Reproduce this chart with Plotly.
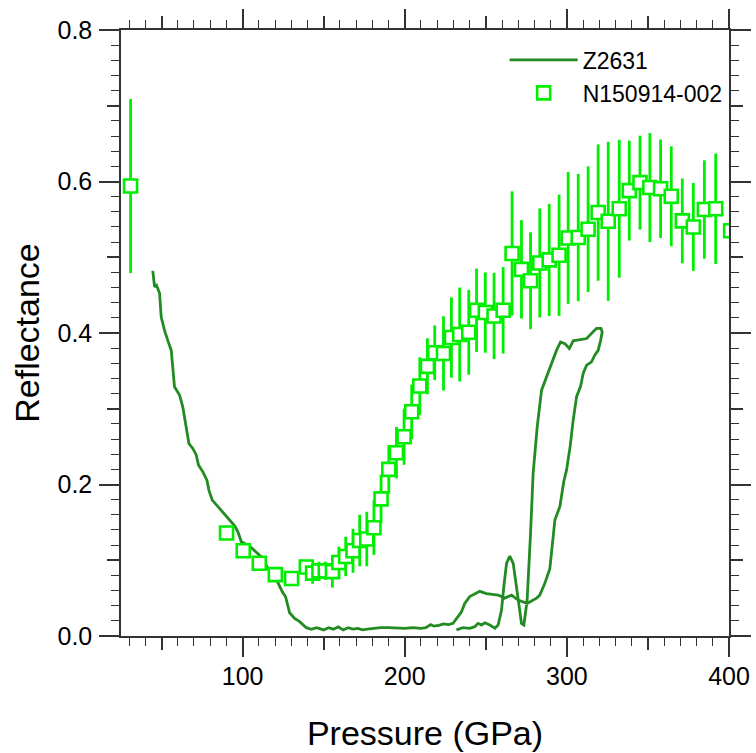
import plotly.graph_objects as go

# ---- Data: Z2631 (line) ----
z_p = [44.6, 45.7, 46.9, 48.8, 49.8, 51.9, 53.9, 56.0, 58.0, 61.1, 63.1, 65.2, 66.9, 69.3,
       71.4, 72.8, 75.5, 78.0, 79.2, 81.3, 85.8, 89.9, 95.1, 97.1, 99.2, 104.3, 109.4,
       112.5, 115.6, 120.8, 124.5, 126.5, 129.0, 132.1, 135.2, 139.3, 142.4, 145.5, 147.0,
       150.0, 153.0, 156.0, 159.0, 162.0, 165.0, 168.0, 171.0, 174.0, 177.0, 180.0, 185.0,
       190.0, 195.0, 200.0, 205.0, 210.0, 213.0, 216.0, 218.0, 221.0, 224.0, 227.0, 229.8,
       235.0, 237.0, 240.1, 246.3, 250.4, 257.6, 261.7, 265.9, 269.9, 275.5, 281.3, 283.3,
       286.4, 289.5, 291.5, 292.6, 295.7, 298.1, 299.8, 302.0, 303.9, 306.0, 308.5, 310.1,
       312.2, 315.2, 317.3, 319.3, 320.8, 321.8, 321.0, 318.3, 316.2, 312.2, 303.9, 301.5,
       298.8, 296.1, 293.6, 289.1, 284.4, 281.7, 279.2, 277.6, 275.5, 273.5, 272.0, 270.6,
       268.5, 266.9, 264.8, 262.8, 261.1, 259.7, 257.6, 255.6, 252.5, 249.4, 247.4, 245.2,
       243.2, 240.1, 236.0, 231.9]
z_r = [0.482, 0.461, 0.463, 0.4525, 0.421, 0.403, 0.390, 0.377, 0.329, 0.318, 0.3025, 0.276,
       0.254, 0.2476, 0.239, 0.2256, 0.2167, 0.2058, 0.1926, 0.1794, 0.1685, 0.1574, 0.1455,
       0.1376, 0.1244, 0.1187, 0.1091, 0.1025, 0.0893, 0.0748, 0.0584, 0.0518, 0.0307,
       0.0233, 0.0189, 0.011, 0.0088, 0.011, 0.010, 0.008, 0.011, 0.009, 0.012, 0.008, 0.011,
       0.009, 0.010, 0.008, 0.009, 0.010, 0.011, 0.011, 0.010, 0.010, 0.011, 0.010, 0.011,
       0.015, 0.013, 0.014, 0.016, 0.015, 0.0167, 0.032, 0.043, 0.052, 0.059, 0.056, 0.054,
       0.050, 0.054, 0.0475, 0.043, 0.050, 0.054, 0.0695, 0.089, 0.130, 0.153, 0.171, 0.204,
       0.219, 0.250, 0.285, 0.316, 0.330, 0.347, 0.3575, 0.362, 0.371, 0.377, 0.390, 0.4015,
       0.406, 0.406, 0.4015, 0.3927, 0.3896, 0.3795, 0.386, 0.388, 0.377, 0.351, 0.3245,
       0.276, 0.2146, 0.1355, 0.0475, 0.0145, 0.0167, 0.0387, 0.0695, 0.0959, 0.1055,
       0.0959, 0.065, 0.0343, 0.0145, 0.0102, 0.0145, 0.0175, 0.0145, 0.0167, 0.0123,
       0.0102, 0.011, 0.008]

# ---- Data: N150914-002 (markers with error bars) ----
n_p = [30.9, 90.1, 100.4, 110.3, 120.2, 130.2, 139.3, 143.2, 147.1, 151.0, 155.4, 159.4,
       163.6, 168.1, 172.2, 176.6, 181.0, 185.4, 190.2, 194.9, 199.6, 204.3, 209.3, 214.0,
       218.5, 223.9, 228.8, 233.9, 239.5, 244.3, 249.7, 255.1, 260.7, 266.2, 272.0, 277.6,
       283.3, 289.1, 295.2, 300.8, 307.0, 313.1, 319.3, 325.5, 332.3, 338.5, 345.1, 351.2,
       357.8, 364.4, 371.2, 378.0, 384.8, 391.8, 401.0]
n_r = [0.594, 0.136, 0.1125, 0.096, 0.081, 0.076, 0.091, 0.083, 0.086, 0.086, 0.085, 0.097,
       0.105, 0.1125, 0.126, 0.128, 0.143, 0.181, 0.220, 0.242, 0.263, 0.296, 0.330, 0.356,
       0.374, 0.373, 0.394, 0.398, 0.401, 0.430, 0.427, 0.4225, 0.430, 0.505, 0.484, 0.469,
       0.4925, 0.4965, 0.5026, 0.5255, 0.526, 0.537, 0.559, 0.5475, 0.564, 0.588, 0.5985,
       0.592, 0.5905, 0.5805, 0.548, 0.540, 0.563, 0.564, 0.535]
n_err = [0.115, 0.004, 0.004, 0.004, 0.004, 0.004, 0.006, 0.014, 0.012, 0.012, 0.021, 0.021,
         0.026, 0.029, 0.034, 0.036, 0.036, 0.032, 0.032, 0.034, 0.037, 0.036, 0.038, 0.037,
         0.036, 0.049, 0.053, 0.062, 0.056, 0.055, 0.053, 0.057, 0.057, 0.082, 0.065, 0.064,
         0.072, 0.074, 0.080, 0.087, 0.084, 0.083, 0.090, 0.105, 0.091, 0.066, 0.062, 0.072,
         0.065, 0.066, 0.056, 0.058, 0.065, 0.073, 0.060]

x_major = [100, 200, 300, 400]
x_medium = [50, 150, 250, 350]
y_major = [0.0, 0.2, 0.4, 0.6, 0.8]
y_medium = [0.1, 0.3, 0.5, 0.7]

LINE_GREEN = "#228B22"
LIME = "#00EE00"
AX = "#333333"
FONT = "Liberation Sans, Arial, Helvetica, sans-serif"

fig = go.Figure()
fig.add_trace(go.Scatter(
    x=z_p, y=z_r, mode="lines", name="Z2631",
    line=dict(color=LINE_GREEN, width=2.8),
))
fig.add_trace(go.Scatter(
    x=n_p, y=n_r, mode="markers", name="N150914-002",
    marker=dict(symbol="square", size=13, color="white",
                line=dict(color=LIME, width=2.6)),
    error_y=dict(type="data", array=n_err, visible=True, color=LIME,
                 thickness=2.8, width=0),
))
# invisible trace to instantiate the overlay axes (medium tick level)
fig.add_trace(go.Scatter(x=[None], y=[None], xaxis="x2", yaxis="y2",
                         showlegend=False, hoverinfo="skip"))

xr = [25, 400]
yr = [0.0, 0.8]

fig.update_layout(
    width=756, height=753,
    margin=dict(l=121, r=27, t=30, b=117, autoexpand=False),
    paper_bgcolor="white", plot_bgcolor="white",
    font=dict(family=FONT, color="black", size=25),
    showlegend=True,
    legend=dict(x=0.631, y=0.986, xanchor="left", yanchor="top",
                bgcolor="rgba(0,0,0,0)", font=dict(size=23, family=FONT),
                itemwidth=68, tracegroupgap=0),
    xaxis=dict(
        range=xr, showgrid=False, zeroline=False, automargin=False,
        showline=True, linecolor=AX, linewidth=1.5, mirror="ticks",
        ticks="outside", tickvals=x_major, ticklen=19, tickwidth=1.5, tickcolor=AX,
        tickfont=dict(size=25), ticklabelstandoff=-2,
        minor=dict(dtick=10, ticks="outside", ticklen=8, tickwidth=1.2, tickcolor=AX),
        title=dict(text="Pressure (GPa)", font=dict(size=34), standoff=32),
    ),
    yaxis=dict(
        range=yr, showgrid=False, zeroline=False, automargin=False,
        showline=True, linecolor=AX, linewidth=1.5, mirror="ticks",
        ticks="outside", tickvals=y_major, tickformat=".1f", ticklen=20, tickwidth=1.5,
        tickcolor=AX, tickfont=dict(size=25), ticklabelstandoff=2,
        minor=dict(dtick=0.02, ticks="outside", ticklen=8, tickwidth=1.2, tickcolor=AX),
        title=dict(text="Reflectance", font=dict(size=34), standoff=8),
    ),
    xaxis2=dict(
        range=xr, overlaying="x", anchor="y2", side="bottom", showgrid=False,
        zeroline=False, showline=False, mirror="ticks", ticks="outside",
        tickvals=x_medium, ticklen=13, tickwidth=1.5, tickcolor=AX,
        showticklabels=False, automargin=False,
    ),
    yaxis2=dict(
        range=yr, overlaying="y", anchor="x2", side="left", showgrid=False,
        zeroline=False, showline=False, mirror="ticks", ticks="outside",
        tickvals=y_medium, ticklen=13, tickwidth=1.5, tickcolor=AX,
        showticklabels=False, automargin=False,
    ),
)

fig.write_html("out.html")
